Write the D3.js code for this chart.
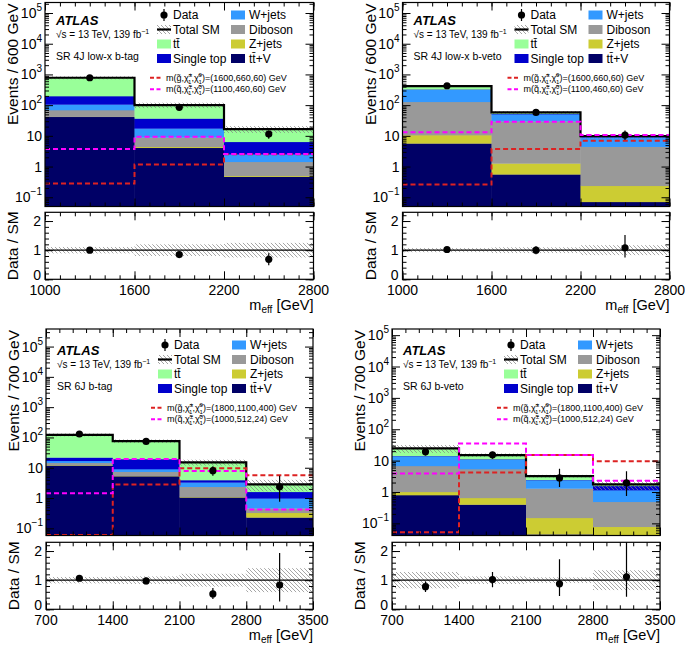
<!DOCTYPE html>
<html><head><meta charset="utf-8">
<script src="https://cdn.jsdelivr.net/npm/d3@7/dist/d3.min.js"></script>
<style>body{margin:0;background:#fff} text{font-family:"Liberation Sans",Arial,Helvetica,sans-serif;fill:#000}</style>
</head><body><svg id="chart" width="685" height="647"></svg>
<script>
// ---------------- data ----------------
const edges4J = [1000, 1600, 2200, 2800];
const edges6J = [700, 1400, 2100, 2800, 3500];
const xTicks4J = [1000, 1600, 2200, 2800];
const xTicks6J = [700, 1400, 2100, 2800, 3500];
const yMajorTicks = [0.1, 1, 10, 100, 1000, 10000, 100000];
const yTickBase = ["10", "1", "10", "10", "10", "10", "10"];
const yTickExp = ["\u22121", "", "", "2", "3", "4", "5"];
const ratioTicks = [0, 1, 2];
const ratioDomain = [0, 2.3];

const processKeys = ["ttV", "Zjets", "Diboson", "Wjets", "SingleTop", "ttbar"];
const processLabels = ["tt\u0304+V", "Z+jets", "Diboson", "W+jets", "Single top", "tt\u0304"];
const processColors = ["#000066", "#cccc33", "#999999", "#3399ff", "#0000cc", "#99ff99"];

// SR 4J low-x b-tag
const a_ttV = [41.9, 4.1, 0.47];
const a_Zjets = [0.5, 0.3, 0.03];
const a_Diboson = [27, 4.5, 0.93];
const a_Wjets = [36.5, 8.6, 1.07];
const a_SingleTop = [92, 19.5, 3.9];
const a_ttbar = [582, 63, 10.2];
const a_data = [780, 85, 11.4];
const a_errUp = [28, 9.2, 3.5];
const a_errDn = [28, 9.2, 3.4];
const a_unc = [0.11, 0.2, 0.25];
const a_sigG = [0.28, 1.17, 2.5];
const a_sigQ = [3.7, 9.4, 2.55];

// SR 4J low-x b-veto
const b_ttV = [5.7, 0.56, 0.071];
const b_Zjets = [4.9, 0.71, 0.166];
const b_Diboson = [118, 28.7, 4.2];
const b_Wjets = [190, 21, 4.6];
const b_SingleTop = [10, 2, 0.3];
const b_ttbar = [90, 5, 0.46];
const b_data = [428, 58, 10.6];
const b_errUp = [21, 8, 4.3];
const b_errDn = [21, 8, 3.3];
const b_unc = [0.07, 0.1, 0.17];
const b_sigG = [0.26, 3.7, 6.9];
const b_sigQ = [13, 28.8, 10.6];

// SR 6J b-tag
const c_ttV = [12.0, 5.3, 1.06, 0.23];
const c_Zjets = [0.3, 0.1, 0.04, 0.097];
const c_Diboson = [2.3, 2.0, 1.26, 0.13];
const c_Wjets = [2.4, 1.7, 0.94, 0.52];
const c_SingleTop = [5.0, 10.3, 0.63, 0.63];
const c_ttbar = [100, 56.6, 11.2, 1.22];
const c_data = [130, 74, 8.0, 2.36];
const c_errUp = [11.4, 8.6, 3.1, 3.1];
const c_errDn = [11.4, 8.6, 2.6, 1.6];
const c_unc = [0.11, 0.13, 0.22, 0.41];
const c_sigG = [0.06, 2.8, 9.6, 5.7];
const c_sigQ = [1.43, 19.4, 7.8, 0.42];

// SR 6J b-veto
const d_ttV = [0.80, 0.40, 0.045, 0.03];
const d_Zjets = [0.21, 0.25, 0.105, 0.048];
const d_Diboson = [5.8, 4.75, 1.15, 0.41];
const d_Wjets = [7.1, 5.5, 1.09, 0.66];
const d_SingleTop = [0.3, 0.3, 0.05, 0.42];
const d_ttbar = [10.3, 3.8, 0.76, 0.18];
const d_data = [19, 15.3, 2.8, 1.95];
const d_errUp = [4.4, 3.9, 2.7, 2.6];
const d_errDn = [4.4, 3.9, 1.35, 1.2];
const d_unc = [0.28, 0.13, 0.1, 0.34];
const d_sigG = [0.052, 4.2, 15.0, 9.6];
const d_sigQ = [3.9, 35, 15.0, 2.3];

// ---------------- layout ----------------
const panels = [
  {id:"a", edges:edges4J, xTicks:xTicks4J, xMinor:100, left:45, right:313.5, mainTop:2.5, mainBottom:206.5,
   ratioTop:212.3, ratioBottom:279.3, yDomain:[0.05, 2.2e5], legY:15, yTitle:"Events / 600 GeV", region:"SR 4J low-x b-tag",
   stack:[a_ttV,a_Zjets,a_Diboson,a_Wjets,a_SingleTop,a_ttbar], data:a_data, errUp:a_errUp, errDn:a_errDn, unc:a_unc,
   sigG:a_sigG, sigQ:a_sigQ, sigGVals:"(1600,660,60)", sigQVals:"(1100,460,60)"},
  {id:"b", edges:edges4J, xTicks:xTicks4J, xMinor:100, left:402.5, right:669.5, mainTop:2.5, mainBottom:206.5,
   ratioTop:212.3, ratioBottom:279.3, yDomain:[0.05, 2.2e5], legY:15, yTitle:"Events / 600 GeV", region:"SR 4J low-x b-veto",
   stack:[b_ttV,b_Zjets,b_Diboson,b_Wjets,b_SingleTop,b_ttbar], data:b_data, errUp:b_errUp, errDn:b_errDn, unc:b_unc,
   sigG:b_sigG, sigQ:b_sigQ, sigGVals:"(1600,660,60)", sigQVals:"(1100,460,60)"},
  {id:"c", edges:edges6J, xTicks:xTicks6J, xMinor:140, left:46, right:313, mainTop:329, mainBottom:535.5,
   ratioTop:542.3, ratioBottom:609.3, yDomain:[0.058, 3.8e5], legY:345, yTitle:"Events / 700 GeV", region:"SR 6J b-tag",
   stack:[c_ttV,c_Zjets,c_Diboson,c_Wjets,c_SingleTop,c_ttbar], data:c_data, errUp:c_errUp, errDn:c_errDn, unc:c_unc,
   sigG:c_sigG, sigQ:c_sigQ, sigGVals:"(1800,1100,400)", sigQVals:"(1000,512,24)"},
  {id:"d", edges:edges6J, xTicks:xTicks6J, xMinor:140, left:392, right:660, mainTop:329, mainBottom:535.5,
   ratioTop:542.3, ratioBottom:609.3, yDomain:[0.041, 1.57e5], legY:345, yTitle:"Events / 700 GeV", region:"SR 6J b-veto",
   stack:[d_ttV,d_Zjets,d_Diboson,d_Wjets,d_SingleTop,d_ttbar], data:d_data, errUp:d_errUp, errDn:d_errDn, unc:d_unc,
   sigG:d_sigG, sigQ:d_sigQ, sigGVals:"(1800,1100,400)", sigQVals:"(1000,512,24)"}
];

const svg = d3.select("#chart");
const defs = svg.append("defs");
const hatch = defs.append("pattern").attr("id","hatch").attr("patternUnits","userSpaceOnUse")
  .attr("width",4).attr("height",4);
hatch.append("path").attr("d","M-1,-1 L5,5 M-1,3 L1,5 M3,-1 L5,1")
  .attr("stroke","#808080").attr("stroke-width",0.7);

const SIGG_COLOR = "#dd2222", SIGQ_COLOR = "#ff00ff";

function cleanAxis(sel) {
  sel.select(".domain").remove();
  sel.selectAll(".tick line").attr("stroke","#000").attr("stroke-width",1);
  sel.selectAll(".tick text").remove();
}

function sigLabel(t, sq, vals) {
  t.append("tspan").text("m(" + sq + "\u0303,\u03C7\u0303");
  t.append("tspan").attr("font-size",6).attr("dy",-3.5).text("\u00B1");
  t.append("tspan").attr("font-size",6).attr("dx",-4).attr("dy",6.5).text("1");
  t.append("tspan").attr("dy",-3).text(",\u03C7\u0303");
  t.append("tspan").attr("font-size",6).attr("dy",-3.5).text("0");
  t.append("tspan").attr("font-size",6).attr("dx",-3.4).attr("dy",6.5).text("1");
  t.append("tspan").attr("dy",-3).text(")=" + vals + " GeV");
}

function drawPanel(p) {
  const g = svg.append("g");
  const nb = p.edges.length - 1;
  const x = d3.scaleLinear().domain([p.edges[0], p.edges[nb]]).range([p.left, p.right]);
  const y = d3.scaleLog().domain(p.yDomain).range([p.mainBottom, p.mainTop]).clamp(true);
  const yr = d3.scaleLinear().domain(ratioDomain).range([p.ratioBottom, p.ratioTop]);

  defs.append("clipPath").attr("id","cm"+p.id).append("rect")
    .attr("x",p.left).attr("y",p.mainTop).attr("width",p.right-p.left).attr("height",p.mainBottom-p.mainTop);
  defs.append("clipPath").attr("id","cr"+p.id).append("rect")
    .attr("x",p.left).attr("y",p.ratioTop).attr("width",p.right-p.left).attr("height",p.ratioBottom-p.ratioTop);

  const gm = g.append("g").attr("clip-path",`url(#cm${p.id})`);
  const rows = d3.range(nb).map(i => Object.fromEntries(processKeys.map((k,j) => [k, p.stack[j][i]])));
  const series = d3.stack().keys(processKeys)(rows);
  const total = d3.range(nb).map(i => d3.sum(p.stack, s => s[i]));

  series.forEach((s, j) => {
    gm.append("g").selectAll("rect").data(s).join("rect")
      .attr("x", (d,i) => x(p.edges[i]))
      .attr("width", (d,i) => x(p.edges[i+1]) - x(p.edges[i]) + 0.4)
      .attr("y", d => y(d[1]))
      .attr("height", d => Math.max(0, y(Math.max(d[0], p.yDomain[0])) - y(d[1]) + 0.3))
      .attr("fill", processColors[j]);
  });

  gm.append("g").selectAll("rect").data(total).join("rect")
    .attr("x", (d,i) => x(p.edges[i])).attr("width", (d,i) => x(p.edges[i+1]) - x(p.edges[i]))
    .attr("y", (d,i) => y(d*(1+p.unc[i])))
    .attr("height", (d,i) => y(d*(1-p.unc[i])) - y(d*(1+p.unc[i])))
    .attr("fill","url(#hatch)");

  const step = d3.line().x(d => x(d[0])).y(d => y(d[1])).curve(d3.curveStepAfter);
  const pts = arr => d3.range(nb).map(i => [p.edges[i], arr[i]]).concat([[p.edges[nb], arr[nb-1]]]);

  gm.append("path").attr("d", step(pts(total))).attr("fill","none").attr("stroke","#000").attr("stroke-width",2.2);
  gm.append("path").attr("d", step(pts(p.sigG))).attr("fill","none").attr("stroke",SIGG_COLOR)
    .attr("stroke-width",2).attr("stroke-dasharray","5,3");
  gm.append("path").attr("d", step(pts(p.sigQ))).attr("fill","none").attr("stroke",SIGQ_COLOR)
    .attr("stroke-width",2).attr("stroke-dasharray","5,3");

  const centers = d3.range(nb).map(i => (p.edges[i] + p.edges[i+1]) / 2);
  const gd = gm.append("g");
  gd.selectAll("line").data(p.data).join("line")
    .attr("x1",(d,i)=>x(centers[i])).attr("x2",(d,i)=>x(centers[i]))
    .attr("y1",(d,i)=>y(d + p.errUp[i])).attr("y2",(d,i)=>y(Math.max(d - p.errDn[i], p.yDomain[0])))
    .attr("stroke","#000").attr("stroke-width",1.2);
  gd.selectAll("circle").data(p.data).join("circle")
    .attr("cx",(d,i)=>x(centers[i])).attr("cy",d=>y(d)).attr("r",3.6).attr("fill","#000");

  const gr = g.append("g").attr("clip-path",`url(#cr${p.id})`);
  gr.append("g").selectAll("rect").data(p.unc).join("rect")
    .attr("x",(d,i)=>x(p.edges[i])).attr("width",(d,i)=>x(p.edges[i+1]) - x(p.edges[i]))
    .attr("y",d=>yr(1+d)).attr("height",d=>yr(1-d) - yr(1+d)).attr("fill","url(#hatch)");
  gr.append("line").attr("x1",p.left).attr("x2",p.right).attr("y1",yr(1)).attr("y2",yr(1))
    .attr("stroke","#000").attr("stroke-width",1.4);
  const ratio = p.data.map((d,i) => d / total[i]);
  gr.append("g").selectAll("line").data(ratio).join("line")
    .attr("x1",(d,i)=>x(centers[i])).attr("x2",(d,i)=>x(centers[i]))
    .attr("y1",(d,i)=>yr(d + p.errUp[i]/total[i])).attr("y2",(d,i)=>yr(d - p.errDn[i]/total[i]))
    .attr("stroke","#000").attr("stroke-width",1.2);
  gr.append("g").selectAll("circle").data(ratio).join("circle")
    .attr("cx",(d,i)=>x(centers[i])).attr("cy",d=>yr(d)).attr("r",3.6).attr("fill","#000");

  const [lo, hi] = p.yDomain;
  const yMinor = [];
  for (let e = -3; e <= 6; e++) for (let k = 2; k <= 9; k++) { const v = k*Math.pow(10,e); if (v > lo && v < hi) yMinor.push(v); }
  const yMajor = yMajorTicks.filter(v => v >= lo && v <= hi);
  const xMinor = d3.range(p.edges[0], p.edges[nb] + 1e-6, p.xMinor);
  const rMinor = d3.range(0, 2.3001, 0.2);

  const ax = g.append("g");
  ax.append("g").attr("transform",`translate(${p.left},0)`).call(d3.axisLeft(y).tickValues(yMajor).tickSize(-8)).call(cleanAxis);
  ax.append("g").attr("transform",`translate(${p.left},0)`).call(d3.axisLeft(y).tickValues(yMinor).tickSize(-4)).call(cleanAxis);
  ax.append("g").attr("transform",`translate(${p.right},0)`).call(d3.axisRight(y).tickValues(yMajor).tickSize(-8)).call(cleanAxis);
  ax.append("g").attr("transform",`translate(${p.right},0)`).call(d3.axisRight(y).tickValues(yMinor).tickSize(-4)).call(cleanAxis);
  [[p.mainTop, d3.axisTop],[p.mainBottom, d3.axisBottom],[p.ratioTop, d3.axisTop],[p.ratioBottom, d3.axisBottom]].forEach(([yy, fn]) => {
    ax.append("g").attr("transform",`translate(0,${yy})`).call(fn(x).tickValues(p.xTicks).tickSize(-8)).call(cleanAxis);
    ax.append("g").attr("transform",`translate(0,${yy})`).call(fn(x).tickValues(xMinor).tickSize(-4)).call(cleanAxis);
  });
  ax.append("g").attr("transform",`translate(${p.left},0)`).call(d3.axisLeft(yr).tickValues(ratioTicks).tickSize(-8)).call(cleanAxis);
  ax.append("g").attr("transform",`translate(${p.left},0)`).call(d3.axisLeft(yr).tickValues(rMinor).tickSize(-4)).call(cleanAxis);
  ax.append("g").attr("transform",`translate(${p.right},0)`).call(d3.axisRight(yr).tickValues(ratioTicks).tickSize(-8)).call(cleanAxis);
  ax.append("g").attr("transform",`translate(${p.right},0)`).call(d3.axisRight(yr).tickValues(rMinor).tickSize(-4)).call(cleanAxis);

  g.append("rect").attr("x",p.left).attr("y",p.mainTop).attr("width",p.right-p.left).attr("height",p.mainBottom-p.mainTop)
    .attr("fill","none").attr("stroke","#000").attr("stroke-width",1.2);
  g.append("rect").attr("x",p.left).attr("y",p.ratioTop).attr("width",p.right-p.left).attr("height",p.ratioBottom-p.ratioTop)
    .attr("fill","none").attr("stroke","#000").attr("stroke-width",1.2);

  yMajorTicks.forEach((v, i) => {
    if (v < lo || v > hi) return;
    const t = g.append("text").attr("x", p.left - 3).attr("y", y(v) + 5).attr("text-anchor","end").attr("font-size",14);
    t.append("tspan").text(yTickBase[i]);
    if (yTickExp[i]) t.append("tspan").attr("font-size",10).attr("dy",-7).text(yTickExp[i]);
  });
  ratioTicks.forEach(v => {
    g.append("text").attr("x", p.left - 4).attr("y", yr(v) + (v === 0 ? 1 : 5)).attr("text-anchor","end").attr("font-size",14).text(v);
  });
  p.xTicks.forEach(v => {
    g.append("text").attr("x", x(v)).attr("y", p.ratioBottom + 15.5).attr("text-anchor","middle").attr("font-size",14).text(v);
  });
  const xt = g.append("text").attr("x", p.right).attr("y", p.ratioBottom + 31).attr("text-anchor","end").attr("font-size",14.5);
  xt.append("tspan").text("m");
  xt.append("tspan").attr("font-size",10).attr("dy",3).text("eff");
  xt.append("tspan").attr("dy",-3).text(" [GeV]");

  g.append("text").attr("transform",`translate(${p.left-27},${p.mainTop+1}) rotate(-90)`)
    .attr("text-anchor","end").attr("font-size",15.5).text(p.yTitle);
  g.append("text").attr("transform",`translate(${p.left-27},${(p.ratioTop+p.ratioBottom)/2}) rotate(-90)`)
    .attr("text-anchor","middle").attr("font-size",15.5).text("Data / SM");

  const L = p.left, Y = p.legY;
  g.append("text").attr("x", L+11).attr("y", Y+10).attr("font-size",13).attr("font-weight","bold").attr("font-style","italic").text("ATLAS");
  const rs = g.append("text").attr("x", L+11).attr("y", Y+23).attr("font-size",10);
  rs.append("tspan").text("\u221As = 13 TeV, 139 fb");
  rs.append("tspan").attr("font-size",7).attr("dy",-4).text("\u22121");
  g.append("text").attr("x", L+11).attr("y", Y+45).attr("font-size",10.5).text(p.region);

  const rowY = [Y, Y+14.5, Y+29, Y+43.5];
  const lg = g.append("g");
  lg.append("line").attr("x1",L+119).attr("x2",L+119).attr("y1",rowY[0]-6).attr("y2",rowY[0]+6).attr("stroke","#000").attr("stroke-width",1.2);
  lg.append("circle").attr("cx",L+119).attr("cy",rowY[0]).attr("r",3.6).attr("fill","#000");
  lg.append("rect").attr("x",L+112).attr("y",rowY[1]-4.5).attr("width",14).attr("height",9).attr("fill","url(#hatch)");
  lg.append("line").attr("x1",L+112).attr("x2",L+126).attr("y1",rowY[1]).attr("y2",rowY[1]).attr("stroke","#000").attr("stroke-width",2.2);
  const leftEntries = [["Data",null],["Total SM",null],[processLabels[5],processColors[5]],[processLabels[4],processColors[4]]];
  leftEntries.forEach(([lab, col], i) => {
    if (col) lg.append("rect").attr("x",L+112).attr("y",rowY[i]-4.5).attr("width",14).attr("height",9).attr("fill",col);
    lg.append("text").attr("x",L+128).attr("y",rowY[i]+4.3).attr("font-size",12).text(lab);
  });
  const rightIdx = [3, 2, 1, 0];
  rightIdx.forEach((k, i) => {
    lg.append("rect").attr("x",L+186).attr("y",rowY[i]-4.5).attr("width",14).attr("height",9).attr("fill",processColors[k]);
    lg.append("text").attr("x",L+204).attr("y",rowY[i]+4.3).attr("font-size",12).text(processLabels[k]);
  });
  [[p.sigGVals,"g",SIGG_COLOR,Y+62.7],[p.sigQVals,"q",SIGQ_COLOR,Y+74.3]].forEach(([vals, sq, col, yy]) => {
    lg.append("line").attr("x1",L+105).attr("x2",L+118).attr("y1",yy).attr("y2",yy)
      .attr("stroke",col).attr("stroke-width",2).attr("stroke-dasharray","4,2.5");
    const t = lg.append("text").attr("x",L+121).attr("y",yy+3).attr("font-size",9);
    sigLabel(t, sq, vals);
  });
}

panels.forEach(drawPanel);
</script></body></html>
